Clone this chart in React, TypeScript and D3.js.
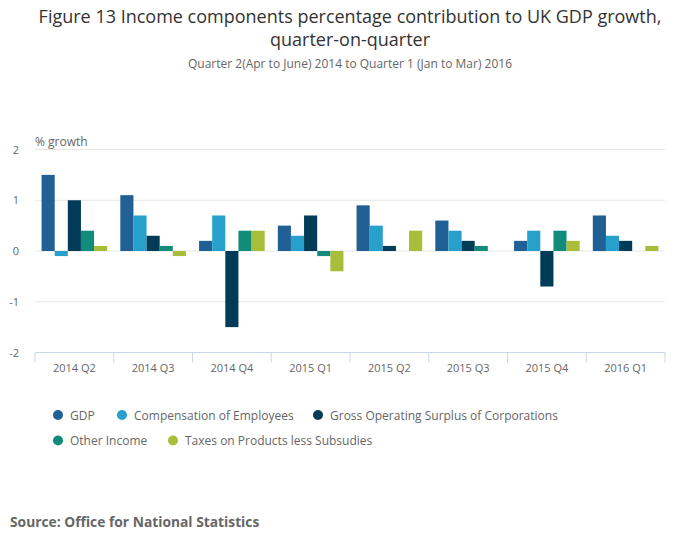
import React from 'react';
import * as d3 from 'd3';

const quarters = ['2014 Q2', '2014 Q3', '2014 Q4', '2015 Q1', '2015 Q2', '2015 Q3', '2015 Q4', '2016 Q1'];
const seriesNames = [
  'GDP',
  'Compensation of Employees',
  'Gross Operating Surplus of Corporations',
  'Other Income',
  'Taxes on Products less Subsudies',
];
const seriesColors = ['#206095', '#27a0cc', '#003c57', '#118c7b', '#a8bd3a'];

const gdp = [1.5, 1.1, 0.2, 0.5, 0.9, 0.6, 0.2, 0.7];
const compensation = [-0.1, 0.7, 0.7, 0.3, 0.5, 0.4, 0.4, 0.3];
const grossSurplus = [1.0, 0.3, -1.5, 0.7, 0.1, 0.2, -0.7, 0.2];
const otherIncome = [0.4, 0.1, 0.4, -0.1, 0, 0.1, 0.4, 0];
const taxes = [0.1, -0.1, 0.4, -0.4, 0.4, 0, 0.2, 0.1];
const yTicks = [-2, -1, 0, 1, 2];

const seriesValues = [gdp, compensation, grossSurplus, otherIncome, taxes];

const width = 700;
const height = 549;
const left = 35;
const right = 665;
const top = 149.5;
const bottom = 352.5;

const font = '"Open Sans", sans-serif';

// legend layout (two rows, as in the original)
const legendRows = [
  [0, 1, 2],
  [3, 4],
];

const App: React.FC = () => {
  const x = d3.scaleBand<string>().domain(quarters).range([left, right]).paddingInner(0).paddingOuter(0);
  const inner = d3
    .scaleBand<number>()
    .domain(d3.range(seriesNames.length))
    .range([0, x.bandwidth()])
    .paddingOuter(0.5)
    .paddingInner(0);
  const y = d3.scaleLinear().domain([-2, 2]).range([bottom, top]);

  // legend item positions (circle centres)
  const legendX = [[58, 122, 318], [58, 173]];
  const legendY = [415, 440.5];

  return (
    <div style={{ position: 'absolute', left: 0, top: 0 }}>
      <svg width={width} height={height} style={{ display: 'block', fontFamily: font }}>
        <rect width={width} height={height} fill="#fff" />
        <text x={350} y={23} textAnchor="middle" fontSize={18} fill="#333">
          Figure 13 Income components percentage contribution to UK GDP growth,
        </text>
        <text x={350} y={46} textAnchor="middle" fontSize={18} fill="#333">
          quarter-on-quarter
        </text>
        <text x={350} y={67.5} textAnchor="middle" fontSize={12} fill="#666">
          Quarter 2(Apr to June) 2014 to Quarter 1 (Jan to Mar) 2016
        </text>

        {/* grid */}
        {yTicks.map((t) => (
          <g key={t}>
            {t !== -2 && (
              <line x1={left} x2={right} y1={y(t)} y2={y(t)} stroke="#e6e6e6" strokeWidth={1} />
            )}
            <text x={19} y={y(t) + 4} textAnchor="end" fontSize={11} fill="#666">
              {t}
            </text>
          </g>
        ))}
        <text x={35} y={146} fontSize={12} fill="#666">
          % growth
        </text>

        {/* bars */}
        {quarters.map((q, qi) => (
          <g key={q} transform={`translate(${x(q)},0)`}>
            {seriesValues.map((vals, si) => {
              const v = vals[qi];
              if (v === 0) return null;
              return (
                <rect
                  key={si}
                  x={inner(si)}
                  width={inner.bandwidth()}
                  y={Math.min(y(v), y(0))}
                  height={Math.abs(y(v) - y(0))}
                  fill={seriesColors[si]}
                />
              );
            })}
          </g>
        ))}

        {/* x axis */}
        <line x1={left} x2={right} y1={bottom} y2={bottom} stroke="#ccd6eb" strokeWidth={1} />
        {quarters.concat(['end']).map((q, i) => {
          const xx = left + i * x.bandwidth();
          return <line key={q} x1={xx} x2={xx} y1={bottom} y2={bottom + 10} stroke="#ccd6eb" strokeWidth={1} />;
        })}
        {quarters.map((q) => (
          <text key={q} x={(x(q) ?? 0) + x.bandwidth() / 2} y={372} textAnchor="middle" fontSize={11} fill="#666">
            {q}
          </text>
        ))}

        {/* legend */}
        {legendRows.map((row, ri) =>
          row.map((si, k) => (
            <g key={si}>
              <circle cx={legendX[ri][k]} cy={legendY[ri]} r={5} fill={seriesColors[si]} />
              <text x={legendX[ri][k] + 12} y={legendY[ri] + 4.5} fontSize={12} fill="#666">
                {seriesNames[si]}
              </text>
            </g>
          ))
        )}

        <text x={10} y={527} fontSize={13.8} fontWeight="bold" fill="#666">
          Source: Office for National Statistics
        </text>
      </svg>
    </div>
  );
};

export default App;
